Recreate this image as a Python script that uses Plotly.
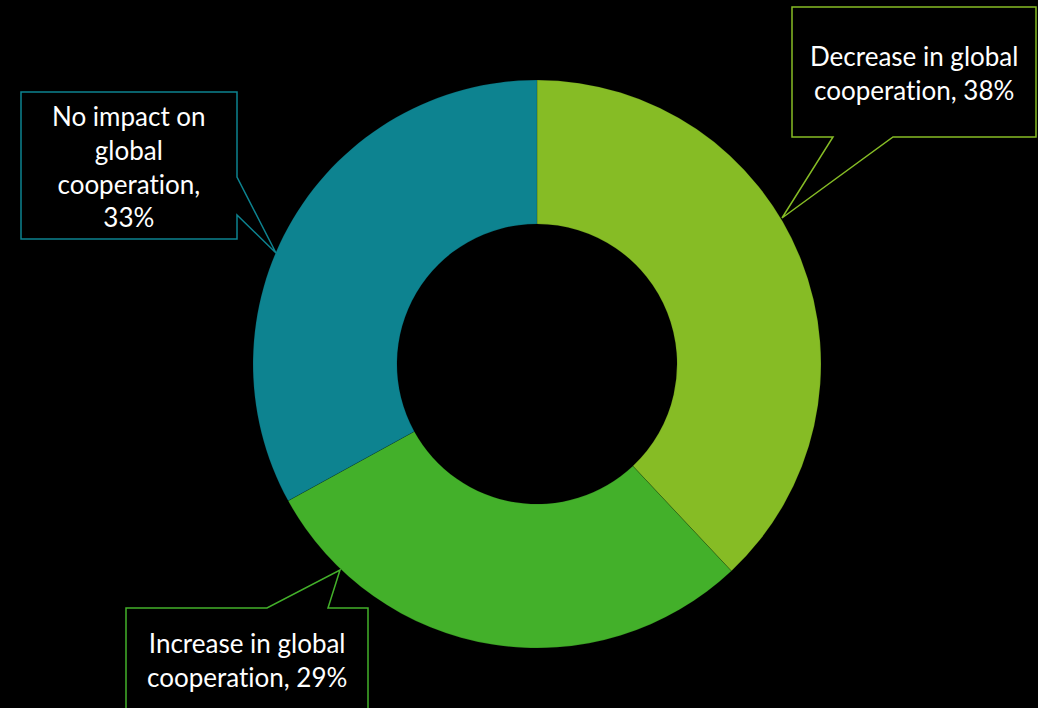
import plotly.graph_objects as go

categories = ["Decrease in global cooperation", "Increase in global cooperation", "No impact on global cooperation"]
values = [38, 29, 33]
colors = ["#86BC25", "#43B02A", "#0D8390"]
ZW = "\u200c"  # zero-width non-joiner, avoids the Lato "ti" ligature
label_texts = [f"Decrease in global<br>cooperat{ZW}ion, 38%",
               f"Increase in global<br>cooperat{ZW}ion, 29%",
               f"No impact on<br>global<br>cooperat{ZW}ion,<br>33%"]

W, H = 1038, 708
cx, cy, R = 537, 364, 284

fig = go.Figure()
fig.add_trace(go.Pie(
    labels=categories, values=values, sort=False, direction="clockwise", rotation=0,
    hole=0.493, marker=dict(colors=colors, line=dict(color="rgba(0,0,0,0.25)", width=0.6)),
    textinfo="none", hoverinfo="label+percent", showlegend=False,
    domain=dict(x=[(cx - R) / W, (cx + R) / W], y=[(H - cy - R) / H, (H - cy + R) / H]),
))

# callout outlines (pixel coords on a hidden overlay axis)
callouts = [
    ("M792,7 L1036,7 L1036,137 L893,137 L782,218 L833,137 L792,137 Z", colors[0]),
    ("M126,608 L267,608 L340,570 L328,608 L368,608 L368,720 L126,720 Z", colors[1]),
    ("M21,92 L237,92 L237,177 L276,253 L237,215 L237,239 L21,239 Z", colors[2]),
]
for path, col in callouts:
    fig.add_shape(type="path", path=path, xref="x", yref="y",
                  line=dict(color=col, width=1.5), fillcolor="black", layer="above")

label_pos = [(914, 73), (247, 660), (129, 166)]
for (x, y), t in zip(label_pos, label_texts):
    fig.add_annotation(x=x, y=y, xref="x", yref="y", text=t, showarrow=False,
                       font=dict(family="Lato", size=26, color="white"), align="center")

fig.update_layout(
    width=W, height=H, paper_bgcolor="black", plot_bgcolor="rgba(0,0,0,0)",
    margin=dict(l=0, r=0, t=0, b=0),
    xaxis=dict(range=[0, W], visible=False, fixedrange=True),
    yaxis=dict(range=[H, 0], visible=False, fixedrange=True),
)
fig.write_html("out.html", config={"displayModeBar": False},
               post_script="document.body.style.margin='0';document.body.style.background='black';")
